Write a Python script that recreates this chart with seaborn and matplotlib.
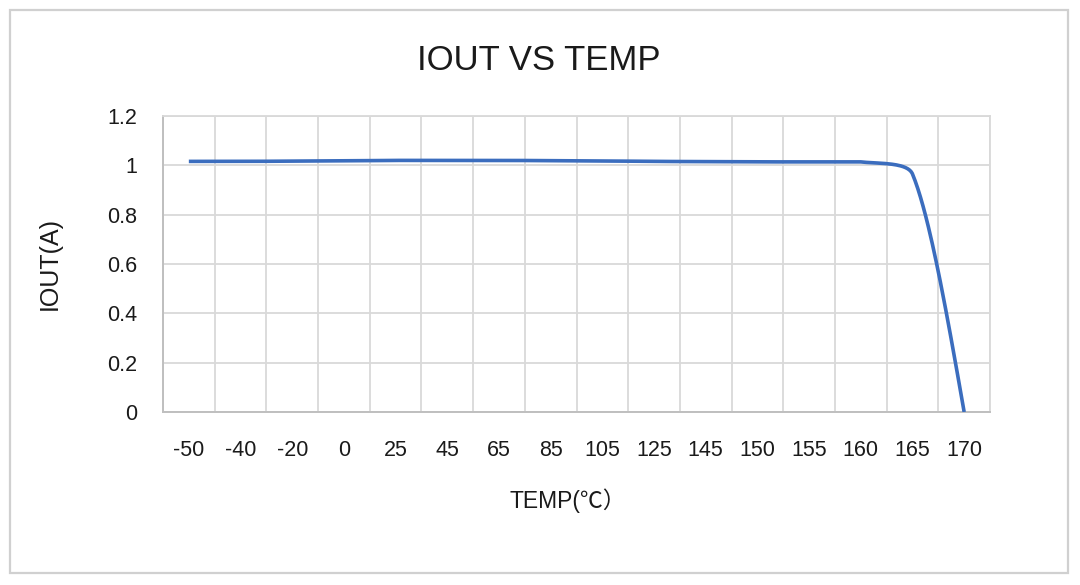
import numpy as np
import pandas as pd
import matplotlib
matplotlib.use("Agg")
import matplotlib.pyplot as plt
from matplotlib.patches import Rectangle
from matplotlib.ticker import FuncFormatter
import seaborn as sns

# ---- data ----
temp_labels = ["-50", "-40", "-20", "0", "25", "45", "65", "85", "105",
               "125", "145", "150", "155", "160", "165", "170"]
iout_values = [1.016, 1.016, 1.017, 1.018, 1.020, 1.020, 1.020, 1.019, 1.018,
               1.016, 1.015, 1.014, 1.014, 1.014, 0.965, 0.000]
y_ticks = [0, 0.2, 0.4, 0.6, 0.8, 1.0, 1.2]
title_text = "IOUT VS TEMP"
xlabel_text = "TEMP(℃）"
ylabel_text = "IOUT(A)"

LINE_COLOR = "#3b6dbe"
GRID_COLOR = "#d9d9d9"
TEXT_COLOR = "#1a1a1a"


def smooth_line(xs, ys, samples=40):
    """Excel-like smoothed line: Bezier segments with Catmull-Rom style
    control points, clamped so a segment never overshoots its end values."""
    pts = np.column_stack([xs, ys]).astype(float)
    n = len(pts)
    tang = np.zeros_like(pts)
    for i in range(1, n - 1):
        tang[i] = (pts[i + 1] - pts[i - 1]) / 6.0

    def clamp(p, t, lo, hi, sign):
        c = p + sign * t
        if c[1] > hi and t[1] != 0:
            s = (hi - p[1]) / (sign * t[1])
            c = p + sign * t * s
        elif c[1] < lo and t[1] != 0:
            s = (lo - p[1]) / (sign * t[1])
            c = p + sign * t * s
        return c

    out_x, out_y = [], []
    tt = np.linspace(0, 1, samples)
    for i in range(n - 1):
        p0, p3 = pts[i], pts[i + 1]
        lo, hi = min(p0[1], p3[1]), max(p0[1], p3[1])
        if i == 0:
            c2 = clamp(p3, tang[i + 1], lo, hi, -1)
            c1 = (p0 + c2) / 2
        elif i == n - 2:
            c1 = clamp(p0, tang[i], lo, hi, +1)
            c2 = (c1 + p3) / 2
        else:
            c1 = clamp(p0, tang[i], lo, hi, +1)
            c2 = clamp(p3, tang[i + 1], lo, hi, -1)
        b = ((1 - tt) ** 3)[:, None] * p0 + (3 * (1 - tt) ** 2 * tt)[:, None] * c1 \
            + (3 * (1 - tt) * tt ** 2)[:, None] * c2 + (tt ** 3)[:, None] * p3
        if i > 0:
            b = b[1:]
        out_x.extend(b[:, 0])
        out_y.extend(b[:, 1])
    return np.array(out_x), np.array(out_y)


sns.set_theme(style="white")
plt.rcParams["font.family"] = ["Liberation Sans", "Noto Sans CJK SC", "DejaVu Sans"]

W, H = 1080, 585
fig = plt.figure(figsize=(W / 100, H / 100), dpi=100)
fig.patch.set_facecolor("white")

# chart outer border
fig.patches.append(Rectangle((10 / W, 1 - 573 / H), 1058 / W, 563 / H,
                             transform=fig.transFigure, fill=False,
                             edgecolor="#d0d0d0", linewidth=1.6, zorder=0))

ax = fig.add_axes([163 / W, 1 - 412 / H, 827 / W, 296 / H])

x_idx = np.arange(len(temp_labels))
sx, sy = smooth_line(x_idx, iout_values)
df = pd.DataFrame({"x": sx, "y": sy})
sns.lineplot(data=df, x="x", y="y", sort=False, estimator=None,
             color=LINE_COLOR, linewidth=2.6, ax=ax, zorder=3)
ax.lines[-1].set_solid_capstyle("butt")

ax.set_xlim(-0.5, len(temp_labels) - 0.5)
ax.set_ylim(0, 1.2)
ax.set_xticks(x_idx)
ax.set_xticklabels(temp_labels)
ax.set_xticks(np.arange(-0.5, len(temp_labels), 1.0), minor=True)
ax.set_yticks(y_ticks)
ax.yaxis.set_major_formatter(FuncFormatter(lambda v, p: f"{v:g}"))

ax.grid(False)
ax.grid(which="minor", axis="x", color=GRID_COLOR, linewidth=1.3)
ax.grid(which="major", axis="y", color=GRID_COLOR, linewidth=1.3)
ax.set_axisbelow(True)

for side in ["top", "right"]:
    ax.spines[side].set_color(GRID_COLOR)
    ax.spines[side].set_linewidth(1.3)
for side in ["left", "bottom"]:
    ax.spines[side].set_color("#bfbfbf")
    ax.spines[side].set_linewidth(1.4)

ax.tick_params(axis="both", which="both", length=0, labelsize=15.5,
               labelcolor=TEXT_COLOR)
ax.tick_params(axis="y", pad=18.5)
ax.tick_params(axis="x", pad=20.5)

ax.set_xlabel(xlabel_text, fontsize=16.5, color=TEXT_COLOR)
ax.set_ylabel(ylabel_text, fontsize=18, color=TEXT_COLOR)
ax.xaxis.set_label_coords((568 - 163) / 827, (412 - 501) / 296)
ax.xaxis.label.set_va("center")
ax.yaxis.set_label_coords((50 - 163) / 827, (412 - 264) / 296)
ax.yaxis.label.set_va("center")

fig.text(539 / W, 1 - 60 / H, title_text, ha="center", va="center",
         fontsize=25, color=TEXT_COLOR)

fig.savefig("out.png", dpi=100, facecolor="white")
